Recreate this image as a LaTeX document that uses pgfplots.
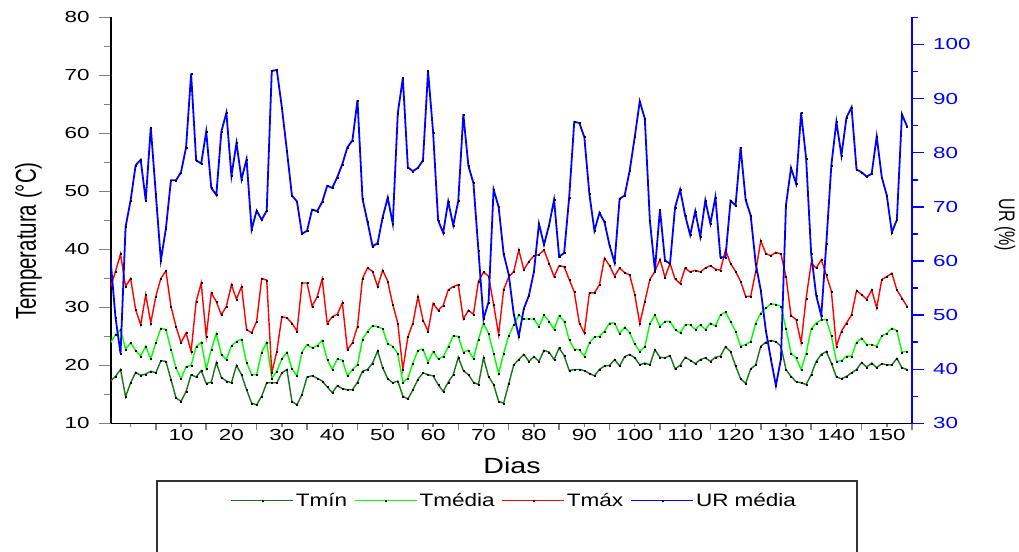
\documentclass[border=0pt]{standalone}
\usepackage{fontspec}
\setmainfont{Liberation Sans}
\newfontfamily\tickfont[FakeStretch=1.4]{Liberation Sans}
\newfontfamily\labfont[FakeStretch=1.3]{Liberation Sans}
\newfontfamily\legfont[FakeStretch=1.25]{Liberation Sans}
\usepackage{pgfplots}
\usepackage{pgfplotstable}
\pgfplotsset{compat=1.18}
\definecolor{dkgreen}{RGB}{25,115,25}
\definecolor{ltgreen}{RGB}{0,255,0}
\definecolor{urblue}{RGB}{0,0,255}

\pgfplotstableread{
d tmin tmed tmax ur
-4 17.3 23.9 33.5 60.5
-3 18.1 25.3 36.2 49.6
-2 19.3 26.2 39.2 42.9
-1 14.6 22.8 33.6 66.3
0 17.0 23.9 35.0 71.2
1 18.8 22.6 29.6 77.7
2 18.3 21.6 27.0 78.7
3 18.5 23.3 32.2 71.2
4 19.0 21.1 27.3 84.7
5 18.7 23.9 31.9 72.4
6 20.8 26.4 35.0 60.1
7 20.7 26.2 36.3 66.0
8 17.6 22.8 30.2 74.9
9 14.4 19.6 26.7 74.9
10 13.8 17.7 23.9 76.4
11 15.5 19.8 25.6 81.0
12 18.4 20.0 22.4 94.6
13 18.0 23.2 31.0 78.6
14 19.1 24.0 34.2 78.0
15 16.9 19.4 25.0 83.9
16 17.1 22.7 32.5 73.5
17 20.5 25.5 31.0 72.2
18 17.9 21.9 28.7 83.9
19 17.3 21.0 30.2 87.4
20 17.0 23.4 33.9 75.7
21 20.0 24.1 31.4 81.8
22 18.4 24.5 33.6 75.1
23 15.8 20.5 26.2 78.8
24 13.5 18.4 25.6 65.8
25 13.2 18.4 27.6 69.3
26 14.7 22.3 35.0 67.6
27 17.0 24.0 34.7 69.3
28 17.0 17.8 18.7 95.1
29 17.0 19.0 22.4 95.3
30 18.7 21.1 28.4 88.4
31 19.3 22.3 28.2 80.4
32 13.8 19.4 27.3 72.1
33 13.2 18.2 25.9 71.0
34 15.0 22.3 34.2 65.0
35 18.0 23.6 34.2 65.6
36 18.2 23.0 30.2 69.5
37 17.8 23.4 31.8 69.2
38 17.3 24.3 34.9 70.9
39 16.3 21.0 27.2 73.9
40 15.3 19.3 28.4 73.5
41 16.5 21.1 28.8 75.5
42 16.0 20.9 30.8 77.9
43 15.8 18.2 22.7 81.0
44 15.8 19.3 23.9 82.3
45 17.1 20.1 26.7 89.7
46 19.0 24.5 35.0 71.5
47 19.3 25.9 36.8 67.2
48 20.4 26.8 36.2 62.7
49 22.5 26.7 33.6 63.3
50 19.6 26.3 36.4 68.1
51 17.7 23.7 34.5 71.7
52 17.0 23.3 30.5 66.9
53 17.3 22.0 27.3 87.3
54 14.7 17.1 19.3 93.8
55 14.2 17.8 24.9 77.3
56 15.8 20.4 27.3 76.6
57 17.6 22.6 31.9 77.2
58 18.7 22.8 27.8 78.6
59 18.4 20.5 25.9 95.1
60 18.2 22.4 30.7 83.8
61 16.7 21.1 29.5 67.5
62 15.5 21.5 30.3 65.2
63 17.1 23.2 33.0 71.0
64 18.4 25.1 33.6 66.6
65 21.4 25.0 33.9 71.1
66 19.1 22.3 28.0 87.1
67 18.4 22.6 29.5 77.6
68 17.1 21.2 28.8 74.4
69 16.7 24.5 34.5 61.9
70 21.3 27.3 36.1 49.3
71 18.1 25.5 35.4 52.4
72 16.7 22.1 30.5 73.2
73 13.8 18.6 25.3 70.0
74 13.5 22.1 33.1 61.3
75 16.8 25.1 35.2 57.5
76 20.1 27.0 36.2 50.2
77 21.0 28.7 39.9 46.1
78 21.9 28.0 36.5 51.2
79 20.7 28.0 37.9 53.6
80 21.5 28.0 38.9 58.0
81 20.7 26.7 39.1 66.9
82 22.6 28.7 39.9 63.0
83 22.3 27.6 37.6 66.6
84 21.0 26.2 35.3 71.3
85 23.0 28.6 37.2 60.8
86 21.7 27.6 37.0 61.5
87 19.1 24.4 34.8 71.8
88 19.3 22.8 32.7 85.7
89 19.3 22.7 27.3 85.5
90 19.1 21.6 25.6 82.9
91 18.6 23.9 32.5 72.4
92 18.2 24.9 32.5 65.6
93 19.3 25.0 33.9 68.9
94 19.9 25.9 38.5 67.2
95 20.0 27.3 37.2 62.9
96 21.0 27.3 35.4 59.7
97 19.9 25.5 36.8 71.5
98 21.5 26.6 36.0 72.1
99 21.9 25.6 35.6 76.7
100 21.3 23.7 32.2 82.9
101 20.1 22.4 27.2 89.5
102 20.4 23.2 31.0 86.3
103 20.1 27.2 34.8 67.5
104 22.7 28.7 36.2 58.3
105 21.4 26.7 38.3 69.5
106 21.3 27.6 35.2 60.1
107 21.7 27.6 37.6 59.5
108 19.4 26.2 34.9 69.9
109 20.0 25.6 34.1 73.2
110 21.4 27.0 36.8 68.4
111 20.9 27.0 36.1 64.8
112 20.3 26.2 36.4 69.2
113 21.0 27.0 36.1 64.5
114 21.3 26.2 36.8 71.2
115 20.7 27.3 37.2 66.9
116 21.4 26.8 36.6 71.8
117 21.6 28.7 36.4 60.7
118 23.2 29.2 39.9 60.7
119 22.4 27.6 37.6 71.1
120 19.9 25.9 36.2 70.3
121 17.7 23.3 34.5 81.0
122 16.9 23.6 31.9 71.3
123 19.4 24.1 31.9 68.4
124 20.1 27.3 36.2 59.5
125 23.3 29.0 41.5 54.6
126 24.0 29.9 39.3 47.2
127 24.3 30.6 38.9 41.9
128 24.1 30.5 39.5 37.0
129 23.3 30.2 39.2 41.9
130 19.3 26.4 35.3 70.3
131 18.1 22.1 28.6 77.2
132 17.2 21.3 27.9 74.3
133 17.0 19.3 23.9 87.4
134 16.7 22.1 31.6 78.9
135 18.4 26.3 37.6 61.3
136 20.7 27.3 36.8 53.6
137 21.9 27.9 38.2 49.9
138 22.4 27.9 35.6 63.2
139 20.4 25.1 32.8 77.7
140 18.0 20.7 23.3 85.7
141 17.7 20.8 25.9 79.5
142 18.1 21.6 27.3 86.5
143 18.7 21.6 28.7 88.4
144 19.3 24.0 32.9 76.9
145 20.5 24.7 32.2 76.4
146 19.7 23.6 31.4 75.6
147 20.4 23.6 33.0 76.1
148 19.6 23.3 29.9 83.0
149 20.3 25.1 34.8 75.5
150 20.1 25.5 35.3 72.1
151 20.1 26.4 35.9 65.3
152 21.2 26.0 33.0 67.6
153 19.6 22.3 31.6 87.1
154 19.3 22.4 30.2 84.9
}\data

\pgfplotsset{
  base/.style={scale only axis, width=801.3bp, height=406bp,
    at={(110.7bp,128.6bp)}, anchor=south west,
    xmin=-3.95, xmax=155, tick align=outside,
    /pgf/number format/assume math mode=true,
    tick style={line width=1.5bp},
    ticklabel style={font=\tickfont\fontsize{16bp}{18bp}\selectfont}},
  ser/.style={line width=1.4bp, mark=square*, mark size=0.5bp,
    mark options={black, line width=0.1bp}},
}

\begin{document}
\begin{tikzpicture}
\useasboundingbox (0,0) rectangle (1019bp,552bp);

% x axis
\begin{axis}[base, ymin=10, ymax=80,
  axis x line*=bottom, axis y line=none,
  x axis line style={-, line width=1.5bp, shorten <=-12bp},
  xtick={0,10,20,30,40,50,60,70,80,90,100,110,120,130,140,150},
  xticklabels={,10,20,30,40,50,60,70,80,90,100,110,120,130,140,150},
  minor xtick={5,15,25,35,45,55,65,75,85,95,105,115,125,135,145,155},
  major tick length=3.5bp, minor tick length=7bp,
  xticklabel style={inner sep=0pt, yshift=-2bp}]
\end{axis}

% temperature axis
\begin{axis}[base, ymin=10, ymax=80,
  axis y line*=left, axis x line=none,
  y axis line style={-, line width=2bp},
  ytick={10,20,30,40,50,60,70,80},
  minor ytick={15,25,35,45,55,65,75},
  major tick length=12bp, minor tick length=7bp,
  yticklabel style={inner sep=0pt, xshift=-9bp}]
\addplot[ser, color=dkgreen] table[x=d, y=tmin] {\data};
\addplot[ser, color=ltgreen] table[x=d, y=tmed] {\data};
\addplot[ser, color=red] table[x=d, y=tmax] {\data};
\end{axis}

% UR axis
\begin{axis}[base, ymin=30, ymax=105,
  axis y line*=right, axis x line=none,
  y axis line style={-, line width=2bp, urblue},
  ytick style={urblue},
  ytick={30,40,50,60,70,80,90,100},
  minor ytick={35,45,55,65,75,85,95,105},
  major tick length=12bp, minor tick length=6bp,
  yticklabel style={inner sep=0pt, xshift=9bp, text=urblue},
  legend columns=4,
  legend style={draw=none, fill=none,
    at={(axis description cs:0.503,-0.19)}, anchor=center,
    font=\legfont\fontsize{18bp}{20bp}\selectfont,
    /tikz/every odd column/.append style={column sep=1bp},
    /tikz/every even column/.append style={column sep=6bp},
    nodes={inner sep=1bp}},
  legend image code/.code={\draw[mark repeat=2, mark phase=2, #1]
    plot coordinates {(0bp,0bp) (31bp,0bp) (62bp,0bp)};}]
\addlegendimage{ser, color=dkgreen}
\addlegendentry{Tmín}
\addlegendimage{ser, color=ltgreen}
\addlegendentry{Tmédia}
\addlegendimage{ser, color=red}
\addlegendentry{Tmáx}
\addplot[ser, color=urblue, line width=1.8bp] table[x=d, y=ur] {\data};
\addlegendentry{UR média}
\end{axis}

% axis titles
\node at (512bp,86bp) {\labfont\fontsize{22bp}{24bp}\selectfont Dias};
\node[rotate=90] at (28.5bp,311bp) {\scalebox{1}[1.4]{\fontsize{20.5bp}{22bp}\selectfont Temperatura (°C)}};
\node[rotate=-90] at (1005bp,327bp) {\scalebox{1}[1.4]{\fontsize{16bp}{18bp}\selectfont UR (\%)}};

% legend frame
\draw[line width=1.3bp, black!80] (157bp,-5bp) |- (857bp,71bp) -- (857bp,-5bp);
\end{tikzpicture}
\end{document}
